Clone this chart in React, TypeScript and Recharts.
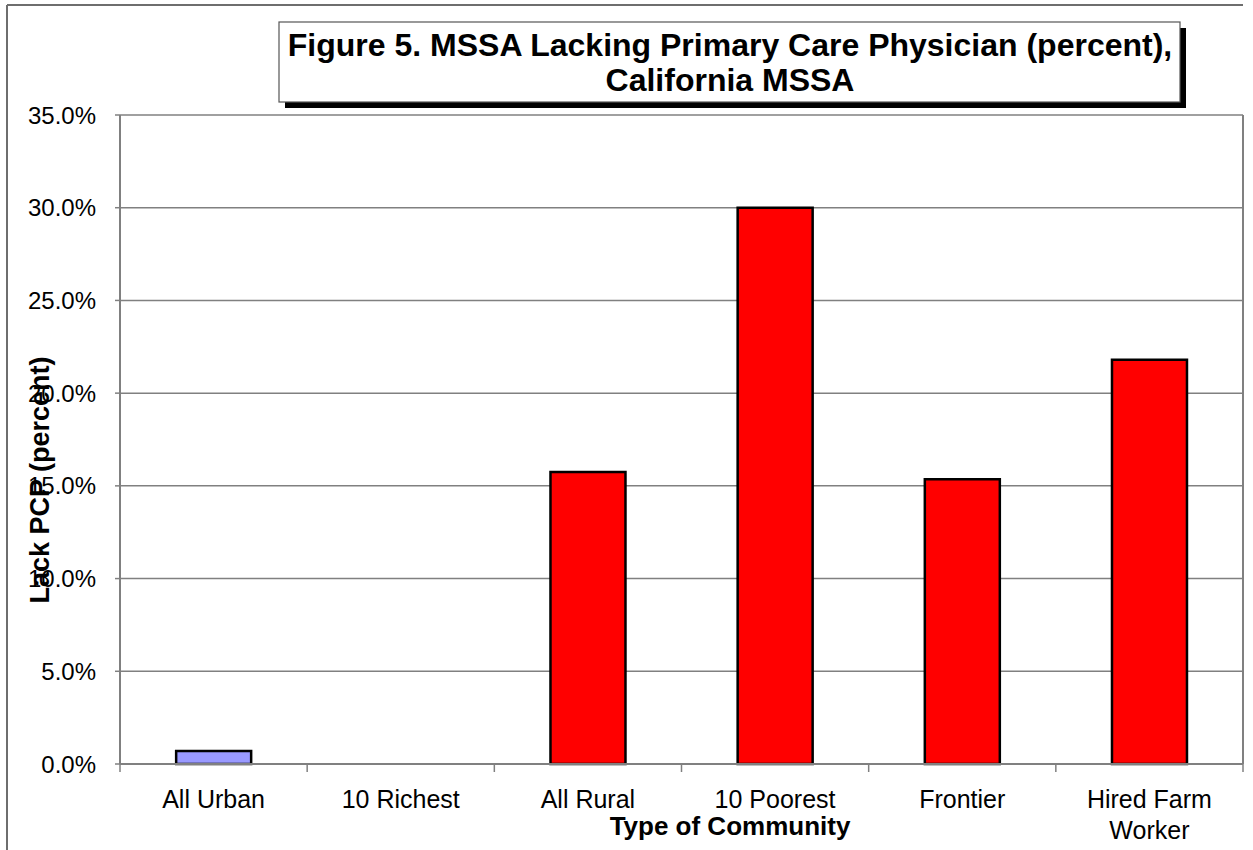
import React from 'react';
import { BarChart, Bar, XAxis, YAxis, CartesianGrid, Cell } from 'recharts';

const categories = ['All Urban', '10 Richest', 'All Rural', '10 Poorest', 'Frontier', 'Hired Farm Worker'];
const lackPcpPercent = [0.7, 0, 15.75, 30.0, 15.35, 21.8];
const communityType = ['Urban', 'Urban', 'Rural', 'Rural', 'Rural', 'Rural'];
const yTicks = [0, 5, 10, 15, 20, 25, 30, 35];

const data = categories.map((name, i) => ({ name, value: lackPcpPercent[i], type: communityType[i] }));

const W = 1253;
const H = 850;
const PLOT_LEFT = 120;
const PLOT_RIGHT = 1243;
const PLOT_TOP = 115;
const PLOT_BOTTOM = 764;
const FONT = '"Liberation Sans", Arial, sans-serif';
const GRID = '#808080';
const typeColor: Record<string, string> = { Urban: '#9999FF', Rural: '#FF0000' };

const band = (PLOT_RIGHT - PLOT_LEFT) / categories.length;

// break long labels in two, like Excel does when they don't fit the category
const wrapLabel = (s: string) => {
  if (s.length <= 14) return [s];
  const cut = s.lastIndexOf(' ');
  return [s.slice(0, cut), s.slice(cut + 1)];
};

const CategoryTick = (props: any) => {
  const { x, y, payload, index } = props;
  const lines = wrapLabel(String(payload.value));
  return (
    <g>
      <line x1={x - band / 2} x2={x - band / 2} y1={y} y2={y + 8} stroke={GRID} strokeWidth={1.5} />
      {index === categories.length - 1 && (
        <line x1={x + band / 2} x2={x + band / 2} y1={y} y2={y + 8} stroke={GRID} strokeWidth={1.5} />
      )}
      <text x={x} y={y + 44} textAnchor="middle" fontSize={25} fontFamily={FONT} fill="#000">
        {lines.map((l, i) => (
          <tspan key={i} x={x} dy={i === 0 ? 0 : 31}>
            {l}
          </tspan>
        ))}
      </text>
    </g>
  );
};

export default function App() {
  return (
    <div style={{ position: 'absolute', left: 0, top: 0, width: W, height: H, background: '#fff' }}>
      <BarChart
        width={W}
        height={H}
        data={data}
        margin={{ top: PLOT_TOP, right: W - PLOT_RIGHT, bottom: H - PLOT_BOTTOM - 60, left: 0 }}
        barCategoryGap="30%"
      >
        <CartesianGrid horizontal vertical={false} stroke={GRID} strokeWidth={1.5} />
        <XAxis
          dataKey="name"
          height={60}
          interval={0}
          tickSize={0}
          tickMargin={0}
          tickLine={false}
          axisLine={{ stroke: GRID, strokeWidth: 2 }}
          tick={<CategoryTick />}
        />
        <YAxis
          width={PLOT_LEFT}
          domain={[0, 35]}
          ticks={yTicks}
          interval={0}
          tickSize={5}
          tickMargin={19}
          tickLine={{ stroke: GRID, strokeWidth: 1.5 }}
          axisLine={{ stroke: GRID, strokeWidth: 2 }}
          tick={{ fill: '#000', fontSize: 24, fontFamily: FONT }}
          tickFormatter={(v: number) => `${v.toFixed(1)}%`}
        />
        <Bar dataKey="value" stroke="#000" strokeWidth={2.5} isAnimationActive={false}>
          {data.map((d, i) => (
            <Cell key={i} fill={typeColor[d.type]} />
          ))}
        </Bar>
      </BarChart>
      <svg
        width={W}
        height={H}
        style={{ position: 'absolute', left: 0, top: 0, pointerEvents: 'none' }}
      >
        {/* chart area frame */}
        <line x1={7} x2={7} y1={5} y2={H} stroke="#6e6e6e" strokeWidth={2} />
        <line x1={7} x2={PLOT_RIGHT} y1={5} y2={5} stroke="#6e6e6e" strokeWidth={2} />
        {/* plot right border */}
        <line x1={PLOT_RIGHT} x2={PLOT_RIGHT} y1={PLOT_TOP} y2={PLOT_BOTTOM} stroke={GRID} strokeWidth={2} />
        {/* title box with shadow */}
        <rect x={285} y={28} width={901} height={80} fill="#000" />
        <rect x={279} y={22} width={901} height={80} fill="#fff" stroke="#555" strokeWidth={1.2} />
        <text x={730} y={56} textAnchor="middle" fontSize={32} fontWeight="bold" fontFamily={FONT}>
          Figure 5. MSSA Lacking Primary Care Physician (percent),
        </text>
        <text x={730} y={91} textAnchor="middle" fontSize={32} fontWeight="bold" fontFamily={FONT}>
          California MSSA
        </text>
        <text
          x={40}
          y={480}
          textAnchor="middle"
          dominantBaseline="central"
          fontSize={27}
          fontWeight="bold"
          fontFamily={FONT}
          transform="rotate(-90 40 480)"
        >
          Lack PCP (percent)
        </text>
        <text x={730} y={835} textAnchor="middle" fontSize={26} fontWeight="bold" fontFamily={FONT}>
          Type of Community
        </text>
      </svg>
    </div>
  );
}
